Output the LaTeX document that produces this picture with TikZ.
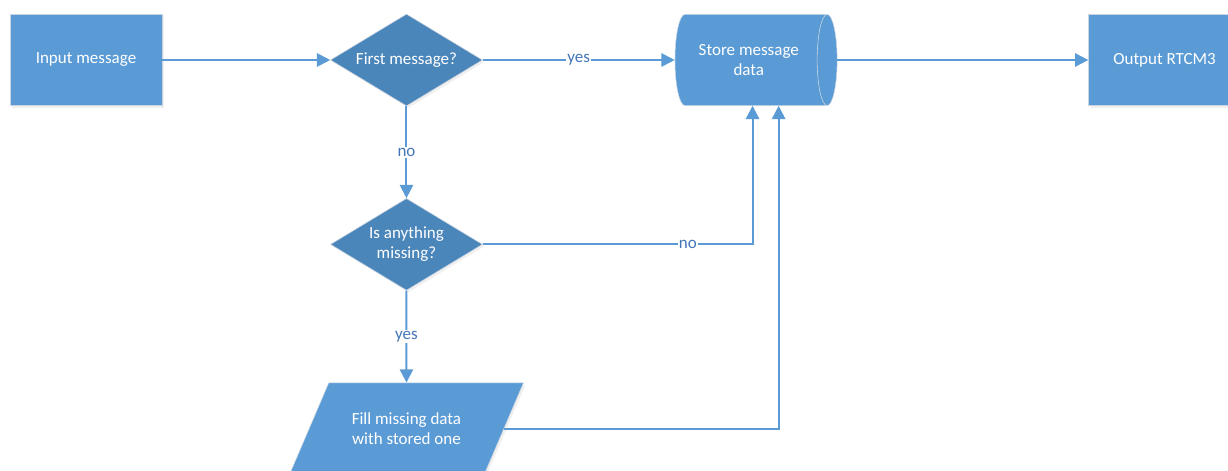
\documentclass[tikz,border=0pt]{standalone}
\usepackage{fontspec}
\setmainfont{Carlito}
\usetikzlibrary{shapes.geometric, arrows.meta, positioning, shadows}
\definecolor{boxblue}{RGB}{91,155,213}
\definecolor{darkblue}{RGB}{75,134,187}
\definecolor{labelblue}{RGB}{68,118,186}
\definecolor{edgegray}{RGB}{200,212,225}

\begin{document}
\begin{tikzpicture}[
    font=\fontsize{12.8}{15}\selectfont,
    node distance=2.434cm,
    process/.style={rectangle, draw=edgegray, line width=0.4pt, fill=boxblue, text=white, minimum width=4.02cm, minimum height=2.41cm, align=center, drop shadow={opacity=0.12, shadow xshift=1.5pt, shadow yshift=-1.5pt}},
    decision/.style={diamond, draw=edgegray, line width=0.4pt, fill=darkblue, text=white, aspect=1.65, inner sep=0pt, minimum width=4.02cm, minimum height=2.43cm, align=center, drop shadow={opacity=0.12, shadow xshift=1.5pt, shadow yshift=-1.5pt}},
    storage/.style={cylinder, shape border rotate=0, aspect=0.5, draw=edgegray, line width=0.4pt, cylinder uses custom fill, cylinder body fill=boxblue, cylinder end fill=boxblue, text=white, minimum width=2.41cm, minimum height=4.29cm, align=center},
    inout/.style={trapezium, trapezium left angle=46, trapezium right angle=134, trapezium stretches body=true, draw=edgegray, line width=0.4pt, fill=boxblue, text=white, minimum width=6.19cm, minimum height=2.43cm, align=center, drop shadow={opacity=0.12, shadow xshift=1.5pt, shadow yshift=-1.5pt}},
    flow/.style={-{Triangle[length=10pt,width=10pt]}, draw=boxblue, line width=1.5pt},
    lbl/.style={fill=white, text=labelblue, inner sep=1pt}
]
    \clip (-2.2754,1.5875) rectangle (30.215,-10.848);

    \node[process] (input) {Input message};
    \node[decision, right=4.445cm of input] (first) {First message?};
    \node[storage, right=5.08cm of first] (store) {Store message\\data};
    \node[process, right=6.64cm of store] (output) {Output RTCM3};
    \node[decision, below=of first] (missing) {Is anything\\missing?};
    \node[inout, below=of missing] (fill) {Fill missing data\\with stored one};

    \draw[flow] (input) -- (first);
    \draw[flow] (first) -- node[lbl] {yes} (store);
    \draw[flow] (store) -- (output);
    \draw[flow] (first) -- node[lbl] {no} (missing);
    \draw[flow] (missing) -- node[lbl] {yes} (fill);
    \draw[flow] (missing.east) -| node[lbl, pos=0.38] {no} ([xshift=0.1cm]store.south);
    \draw[flow] (fill.east) -| ([xshift=0.79cm]store.south);
\end{tikzpicture}
\end{document}
